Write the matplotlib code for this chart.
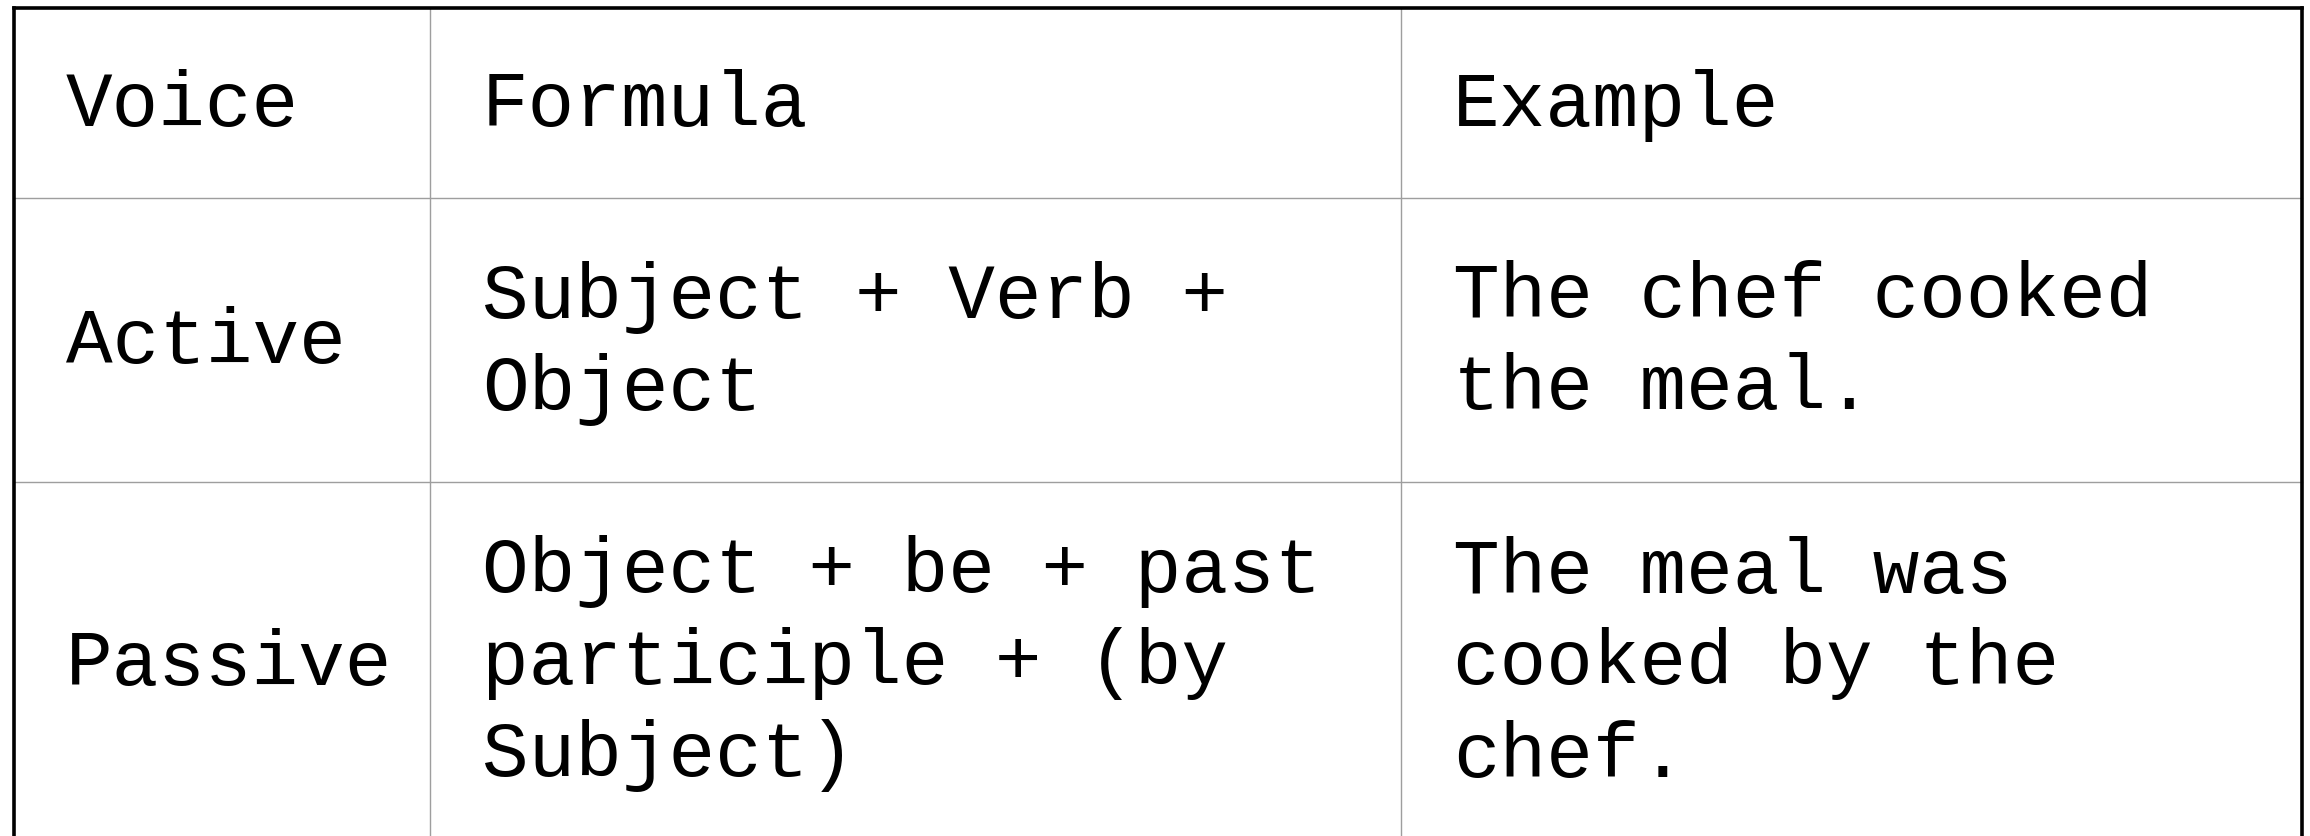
import matplotlib
matplotlib.use("Agg")
import matplotlib.pyplot as plt

# ------------------------------
# Datos de la tabla
# ------------------------------
headers = ["Voice", "Formula", "Example"]
voices = ["Active", "Passive"]
formulas = [
    ["Subject + Verb +", "Object"],
    ["Object + be + past", "participle + (by", "Subject)"],
]
examples = [
    ["The chef cooked", "the meal."],
    ["The meal was", "cooked by the", "chef."],
]

# bordes de columnas y filas (px)
col_x = [13.5, 430, 1401, 2302]
row_y = [7.5, 198, 482, 840]

W, H = 2310, 836
fig = plt.figure(figsize=(W / 100, H / 100), dpi=100)
ax = fig.add_axes([0, 0, 1, 1])
ax.set_xlim(0, W)
ax.set_ylim(H, 0)
ax.axis("off")

font = dict(family="Liberation Mono", size=56, color="black")
pad_x = 52
line_h = 92
cap_h = 47

rows = [[[h] for h in headers]]
for v, f, e in zip(voices, formulas, examples):
    rows.append([[v], f, e])

# texto de las celdas
for r, cells in enumerate(rows):
    yc = (row_y[r] + row_y[r + 1]) / 2
    for c, lines in enumerate(cells):
        y0 = yc - (len(lines) - 1) * line_h / 2 + cap_h / 2
        for k, txt in enumerate(lines):
            ax.text(col_x[c] + pad_x, y0 + k * line_h, txt,
                    ha="left", va="baseline", **font)

# lineas internas
grid = dict(color="#9e9e9e", lw=1.0, zorder=2)
for y in row_y[1:-1]:
    ax.plot([col_x[0], col_x[-1]], [y, y], **grid)
for x in col_x[1:-1]:
    ax.plot([x, x], [row_y[0], row_y[-1]], **grid)

# borde exterior
border = dict(color="black", lw=2.6, zorder=3, solid_capstyle="projecting")
ax.plot([col_x[0], col_x[-1]], [row_y[0], row_y[0]], **border)
ax.plot([col_x[0], col_x[0]], [row_y[0], row_y[-1]], **border)
ax.plot([col_x[-1], col_x[-1]], [row_y[0], row_y[-1]], **border)
ax.plot([col_x[0], col_x[-1]], [row_y[-1], row_y[-1]], **border)

fig.savefig("out.png", dpi=100, facecolor="white")
